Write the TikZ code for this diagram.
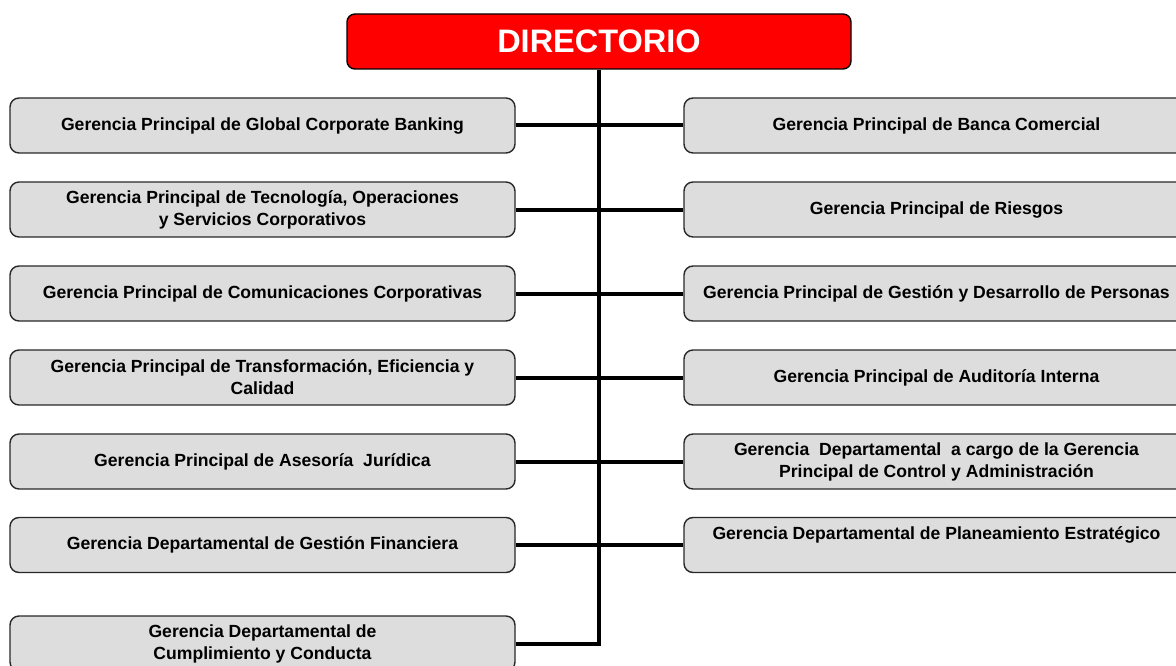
\documentclass[tikz,border=0pt]{standalone}
\usepackage{fontspec}
\setmainfont{Liberation Sans}
\definecolor{boxgray}{RGB}{221,221,221}
\definecolor{boxline}{RGB}{40,40,40}
\definecolor{dirred}{RGB}{255,0,0}
\begin{document}
\begin{tikzpicture}[x=1pt,y=-1pt,
  unitbox/.style={draw=boxline, line width=1.4pt, fill=boxgray, rounded corners=9pt,
    minimum width=505pt, minimum height=55pt, inner sep=0pt, align=center,
    font=\bfseries\fontsize{17.6}{22}\selectfont},
  topbox/.style={draw=black, line width=1.4pt, fill=dirred, rounded corners=8pt,
    minimum width=504pt, minimum height=55pt, inner sep=0pt, text=white,
    font=\bfseries\fontsize{32.5}{36}\selectfont},
  link/.style={line width=4pt, black}]
\useasboundingbox (0,0) rectangle (1176,666);
\clip (0,0) rectangle (1176,666);
\node[topbox] (dir) at (599,41.5) {DIRECTORIO};
% left column
\node[unitbox] (L1) at (262.5,125.5) {Gerencia Principal de Global Corporate Banking};
\node[unitbox] (L2) at (262.5,209.5) {Gerencia Principal de Tecnología, Operaciones\\y Servicios Corporativos};
\node[unitbox] (L3) at (262.5,293.5) {Gerencia Principal de Comunicaciones Corporativas};
\node[unitbox] (L4) at (262.5,377.5) {Gerencia Principal de Transformación, Eficiencia y\\Calidad};
\node[unitbox] (L5) at (262.5,461.5) {Gerencia Principal de Asesoría\ \ Jurídica};
\node[unitbox] (L6) at (262.5,545) {Gerencia Departamental de Gestión Financiera};
\node[unitbox] (L7) at (262.5,643.5) {Gerencia Departamental de\\Cumplimiento y Conducta};
% right column
\node[unitbox] (R1) at (936.5,125.5) {Gerencia Principal de Banca Comercial};
\node[unitbox] (R2) at (936.5,209.5) {Gerencia Principal de Riesgos};
\node[unitbox] (R3) at (936.5,293.5) {Gerencia Principal de Gestión y Desarrollo de Personas};
\node[unitbox] (R4) at (936.5,377.5) {Gerencia Principal de Auditoría Interna};
\node[unitbox] (R5) at (936.5,461.5) {Gerencia\ \ Departamental\ \ a cargo de la Gerencia\\Principal de Control y Administración};
\node[unitbox] (R6) at (936.5,545) {\raisebox{0pt}[\height][\dimexpr\depth+20pt\relax]{Gerencia Departamental de Planeamiento Estratégico}};
% connectors
\draw[link] (dir.south) |- (L7.east);
\draw[link] (L1.east) -- (R1.west);
\draw[link] (L2.east) -- (R2.west);
\draw[link] (L3.east) -- (R3.west);
\draw[link] (L4.east) -- (R4.west);
\draw[link] (L5.east) -- (R5.west);
\draw[link] (L6.east) -- (R6.west);
\end{tikzpicture}
\end{document}
